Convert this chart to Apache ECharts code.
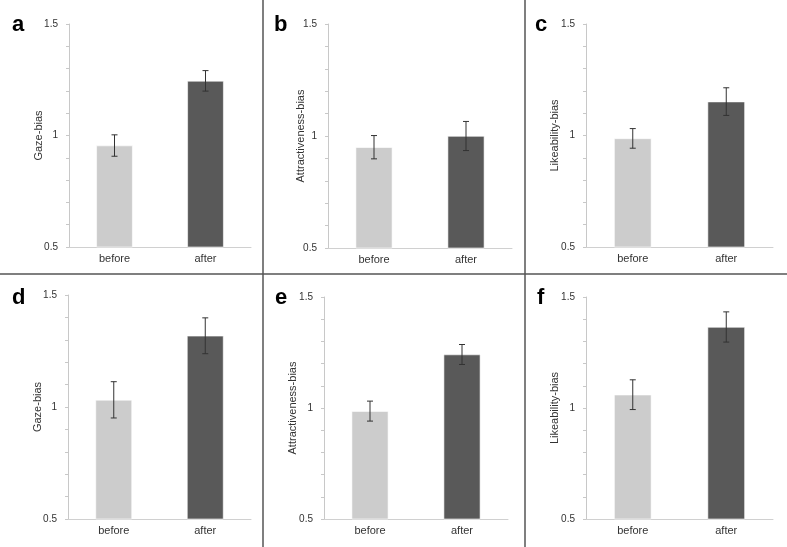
<!DOCTYPE html>
<html>
<head>
<meta charset="utf-8">
<script src="https://cdn.jsdelivr.net/npm/echarts@6/dist/echarts.min.js"></script>
<style>
  html, body { margin: 0; padding: 0; background: #fff; }
  #chart { width: 787px; height: 547px; }
</style>
</head>
<body>
<div id="chart"></div>
<script>
// values
const categories = ['before', 'after'];
const panelLetters = ['a', 'b', 'c', 'd', 'e', 'f'];
const yNames = ['Gaze-bias', 'Attractiveness-bias', 'Likeability-bias',
  'Gaze-bias', 'Attractiveness-bias', 'Likeability-bias'];
const meanValues = [
  [0.955, 1.245],
  [0.950, 1.000],
  [0.987, 1.152],
  [1.032, 1.318],
  [0.986, 1.241],
  [1.060, 1.365],
];
const errValues = [
  [0.048, 0.046],
  [0.052, 0.065],
  [0.044, 0.062],
  [0.081, 0.080],
  [0.045, 0.045],
  [0.067, 0.068],
];
const yTickLabels = ['0.5', '1', '1.5'];
const barColors = ['#cccccc', '#595959'];

// panel boxes (px): left, top, width, height, nameGap, letter x, letter y
const boxes = [
  [69, 24, 182, 223, 25, 7, 9],
  [328, 24, 184, 224, 22, 269, 9],
  [586, 24, 187, 223, 26, 530, 9],
  [68, 295, 183, 224, 25, 7, 282],
  [324, 297, 184, 222, 26, 270, 282],
  [586, 297, 187, 222, 26, 532, 282],
];

const font = 'Liberation Sans, Arial, sans-serif';
const grids = [], xAxes = [], yAxes = [], series = [], titles = [];

boxes.forEach((b, i) => {
  grids.push({ left: b[0], top: b[1], width: b[2], height: b[3] });
  titles.push({
    text: panelLetters[i], left: b[5], top: b[6],
    textStyle: { fontFamily: font, fontWeight: 'bold', fontSize: 22, color: '#000' }
  });
  xAxes.push({
    type: 'category', gridIndex: i, data: categories,
    axisLine: { lineStyle: { color: '#d0d0d0', width: 1 } },
    axisTick: { show: false },
    axisLabel: { color: '#333', fontSize: 11, fontFamily: font, margin: 6 }
  });
  yAxes.push({
    type: 'value', gridIndex: i, min: 0.5, max: 1.5, interval: 0.1,
    name: yNames[i], nameLocation: 'middle', nameGap: b[4], nameMoveOverlap: false,
    nameTextStyle: { color: '#333', fontSize: 11, fontFamily: font },
    axisLine: { show: true, lineStyle: { color: '#c8c8c8', width: 1 } },
    axisTick: { show: true, length: 3, lineStyle: { color: '#c8c8c8' } },
    splitLine: { show: false },
    axisLabel: {
      color: '#333', fontSize: 10, fontFamily: font, margin: 11,
      formatter: v => {
        const k = Math.round((v - 0.5) * 2 * 1000) / 1000;
        return Number.isInteger(k) ? yTickLabels[k] : '';
      }
    }
  });
  series.push({
    type: 'bar', xAxisIndex: i, yAxisIndex: i, barWidth: '40%',
    data: meanValues[i].map((v, j) => ({ value: v, itemStyle: { color: barColors[j] } })),
    itemStyle: { borderColor: '#ffffff', borderWidth: 0.6 },
    silent: true
  });
  series.push({
    type: 'custom', xAxisIndex: i, yAxisIndex: i, z: 10, silent: true,
    data: meanValues[i].map((v, j) => [j, v - errValues[i][j], v + errValues[i][j]]),
    renderItem: (params, api) => {
      const lo = api.coord([api.value(0), api.value(1)]);
      const hi = api.coord([api.value(0), api.value(2)]);
      const cap = 3;
      const style = { stroke: '#333', lineWidth: 1 };
      return {
        type: 'group',
        children: [
          { type: 'line', shape: { x1: lo[0], y1: lo[1], x2: hi[0], y2: hi[1] }, style },
          { type: 'line', shape: { x1: lo[0] - cap, y1: lo[1], x2: lo[0] + cap, y2: lo[1] }, style },
          { type: 'line', shape: { x1: hi[0] - cap, y1: hi[1], x2: hi[0] + cap, y2: hi[1] }, style }
        ]
      };
    }
  });
});

const sep = { stroke: '#555', lineWidth: 1.5 };
const chart = echarts.init(document.getElementById('chart'));
chart.setOption({
  animation: false,
  backgroundColor: '#fff',
  title: titles,
  grid: grids,
  xAxis: xAxes,
  yAxis: yAxes,
  series: series,
  graphic: [
    { type: 'line', shape: { x1: 0, y1: 274, x2: 787, y2: 274 }, style: sep, silent: true },
    { type: 'line', shape: { x1: 263, y1: 0, x2: 263, y2: 547 }, style: sep, silent: true },
    { type: 'line', shape: { x1: 525, y1: 0, x2: 525, y2: 547 }, style: sep, silent: true }
  ]
});
</script>
</body>
</html>
